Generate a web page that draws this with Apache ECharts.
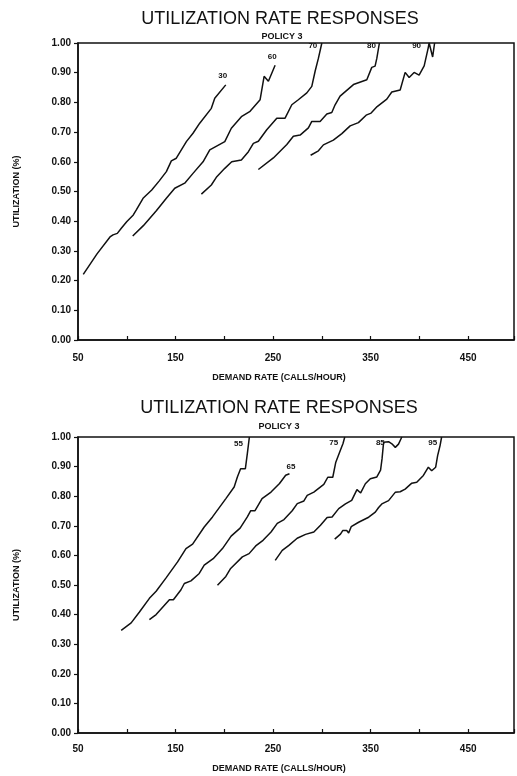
<!DOCTYPE html>
<html>
<head>
<meta charset="utf-8">
<script src="https://cdn.jsdelivr.net/npm/echarts@6/dist/echarts.min.js"></script>
<style>
html,body{margin:0;padding:0;background:#fff}
#main{width:517px;height:776px}
</style>
</head>
<body>
<div id="main"></div>
<script type="text/javascript">
// upper plot, policy 3 curves 30..90
var top30X = [55.4, 69.5, 82.8, 85.9, 90.3, 94.4, 99.9, 106.7, 109.8, 116.7, 125.6, 133.1, 140.6, 145.7, 150.8, 161.1, 167.9, 174.8, 186.7, 190.2, 201.5];
var top30Y = [0.221, 0.290, 0.347, 0.354, 0.359, 0.376, 0.398, 0.421, 0.438, 0.477, 0.505, 0.535, 0.567, 0.603, 0.612, 0.668, 0.696, 0.730, 0.780, 0.814, 0.859];
var top60X = [106.1, 117.0, 130.3, 140.6, 149.2, 159.4, 167.9, 178.2, 185.1, 200.5, 207.2, 217.5, 226.4, 236.7, 240.8, 245.2, 246.9, 252.1];
var top60Y = [0.350, 0.385, 0.435, 0.477, 0.511, 0.528, 0.561, 0.600, 0.640, 0.668, 0.713, 0.752, 0.770, 0.809, 0.888, 0.871, 0.876, 0.925];
var top70X = [176.5, 186.7, 192.3, 200.5, 207.6, 217.5, 224.7, 229.8, 234.9, 243.5, 253.8, 262.3, 269.2, 275.9, 284.6, 289.7, 293.1, 296.5, 300.0];
var top70Y = [0.491, 0.522, 0.550, 0.578, 0.600, 0.606, 0.634, 0.662, 0.669, 0.708, 0.747, 0.747, 0.792, 0.809, 0.832, 0.854, 0.905, 0.949, 1.000];
var top80X = [234.9, 250.3, 264.1, 270.8, 277.7, 286.2, 289.7, 298.2, 305.1, 310.2, 313.6, 318.7, 332.4, 346.1, 351.2, 354.6, 356.4, 359.0];
var top80Y = [0.574, 0.613, 0.658, 0.686, 0.690, 0.714, 0.736, 0.736, 0.761, 0.766, 0.792, 0.821, 0.860, 0.876, 0.918, 0.922, 0.949, 1.000];
var top90X = [288.5, 296.5, 301.6, 311.8, 320.5, 329.0, 337.5, 345.4, 350.5, 356.7, 366.6, 371.7, 380.3, 385.4, 389.5, 394.6, 399.7, 404.9, 409.0, 410.0, 411.0, 413.6, 415.6];
var top90Y = [0.622, 0.637, 0.657, 0.673, 0.695, 0.721, 0.732, 0.757, 0.764, 0.786, 0.811, 0.835, 0.842, 0.901, 0.884, 0.901, 0.892, 0.923, 0.983, 1.000, 1.000, 0.953, 1.000];

// lower plot, curves 55..95
var bot55X = [94.3, 104.5, 113.0, 123.2, 130.1, 140.3, 152.1, 160.7, 167.5, 179.4, 187.9, 201.6, 210.1, 213.4, 216.7, 221.6, 223.6, 225.7];
var bot55Y = [0.347, 0.372, 0.409, 0.455, 0.479, 0.524, 0.578, 0.623, 0.638, 0.696, 0.730, 0.792, 0.831, 0.865, 0.893, 0.893, 0.944, 1.000];
var bot65X = [123.2, 130.1, 143.7, 147.8, 155.6, 159.0, 165.8, 174.3, 179.4, 188.6, 198.1, 207.0, 216.2, 223.6, 227.1, 231.5, 238.7, 247.9, 256.6, 262.9, 266.8];
var bot65Y = [0.383, 0.400, 0.450, 0.450, 0.484, 0.505, 0.514, 0.539, 0.567, 0.589, 0.623, 0.665, 0.692, 0.730, 0.751, 0.751, 0.792, 0.814, 0.843, 0.871, 0.876];
var bot75X = [193.0, 201.6, 206.5, 218.5, 225.4, 232.2, 239.7, 247.9, 254.3, 261.2, 269.6, 274.8, 281.6, 285.0, 291.8, 302.0, 306.1, 311.2, 314.3, 319.0, 321.7, 323.5];
var bot75Y = [0.499, 0.529, 0.556, 0.595, 0.606, 0.632, 0.651, 0.679, 0.708, 0.721, 0.751, 0.775, 0.784, 0.803, 0.814, 0.840, 0.864, 0.864, 0.915, 0.955, 0.978, 1.000];
var bot85X = [252.2, 259.4, 266.2, 274.7, 283.3, 291.8, 298.6, 305.4, 310.5, 317.3, 324.2, 330.6, 336.0, 339.8, 344.6, 349.7, 356.4, 360.2, 361.7, 363.3, 368.4, 371.8, 375.3, 378.6, 382.0];
var bot85Y = [0.583, 0.617, 0.634, 0.658, 0.671, 0.679, 0.702, 0.728, 0.730, 0.758, 0.774, 0.786, 0.822, 0.811, 0.842, 0.859, 0.865, 0.888, 0.926, 0.982, 0.984, 0.977, 0.965, 0.976, 1.000];
var bot95X = [313.2, 319.1, 321.4, 325.5, 327.5, 330.1, 337.7, 348.0, 354.8, 358.2, 361.5, 368.4, 375.2, 380.3, 385.4, 392.2, 397.3, 404.1, 409.2, 412.6, 416.7, 418.7, 421.2, 422.8];
var bot95Y = [0.655, 0.672, 0.684, 0.684, 0.676, 0.697, 0.712, 0.729, 0.746, 0.762, 0.774, 0.785, 0.813, 0.815, 0.824, 0.844, 0.847, 0.870, 0.898, 0.886, 0.898, 0.937, 0.971, 1.000];

var xLabels = [50, 150, 250, 350, 450];
var titleText = 'UTILIZATION RATE RESPONSES';
var subText = 'POLICY 3';
var xName = 'DEMAND RATE (CALLS/HOUR)';
var yName = 'UTILIZATION (%)';

var font = 'Liberation Sans, Arial, sans-serif';

function pts(xs, ys) {
    var out = [];
    for (var i = 0; i < xs.length; i++) out.push([xs[i], ys[i]]);
    return out;
}

// one curve, number label placed near its last point
function curve(name, xs, ys, idx, off) {
    var d = pts(xs, ys);
    return {
        name: name,
        type: 'line',
        xAxisIndex: idx,
        yAxisIndex: idx,
        data: d,
        showSymbol: false,
        silent: true,
        lineStyle: {color: '#111', width: 1.5},
        markPoint: {
            symbol: 'circle',
            symbolSize: 0,
            silent: true,
            data: [{coord: d[d.length - 1]}],
            label: {
                show: true, position: 'inside', formatter: name, offset: off,
                color: '#111', fontSize: 8, fontWeight: 'bold', fontFamily: font
            }
        }
    };
}

function xAxis(idx, margin) {
    return {
        type: 'value', gridIndex: idx, min: 50, max: 497, interval: 50,
        splitLine: {show: false},
        axisLine: {lineStyle: {color: '#111', width: 1.5}},
        axisTick: {inside: true, length: 4, lineStyle: {color: '#111', width: 1.2}},
        axisLabel: {
            margin: margin, color: '#111', fontSize: 10, fontWeight: 'bold', fontFamily: font,
            formatter: function (v) { return xLabels.indexOf(v) >= 0 ? String(v) : ''; }
        }
    };
}

function yAxis(idx) {
    return {
        type: 'value', gridIndex: idx, min: 0, max: 1, interval: 0.1,
        splitLine: {show: false},
        name: yName, nameLocation: 'middle', nameGap: 57, nameRotate: 90,
        nameTextStyle: {color: '#111', fontSize: 9, fontWeight: 'bold', fontFamily: font},
        axisLine: {lineStyle: {color: '#111', width: 1.5}},
        axisTick: {length: 4, lineStyle: {color: '#111', width: 1.2}},
        axisLabel: {
            margin: 7, color: '#111', fontSize: 10, fontWeight: 'bold', fontFamily: font,
            formatter: function (v) { return v.toFixed(2); }
        }
    };
}

function txt(s, x, y, size, weight, fam) {
    return {
        type: 'text', x: x, y: y, silent: true,
        style: {text: s, fill: '#111', fontSize: size, fontWeight: weight, fontFamily: fam,
                align: 'center', verticalAlign: 'middle'}
    };
}

var myChart = echarts.init(document.getElementById('main'));
myChart.setOption({
    animation: false,
    backgroundColor: '#fff',
    grid: [
        {left: 78, top: 43, width: 436, height: 297, show: true, borderColor: '#111', borderWidth: 1.5},
        {left: 78, top: 437, width: 436, height: 296, show: true, borderColor: '#111', borderWidth: 1.5}
    ],
    xAxis: [xAxis(0, 13), xAxis(1, 11)],
    yAxis: [yAxis(0), yAxis(1)],
    graphic: [
        txt(titleText, 280, 19, 18, 'normal', font),
        txt(subText, 282, 37, 9, 'bold', font),
        txt(xName, 279, 378, 9, 'bold', font),
        txt(titleText, 279, 408, 18, 'normal', font),
        txt(subText, 279, 427, 9, 'bold', font),
        txt(xName, 279, 769, 9, 'bold', font)
    ],
    series: [
        curve('30', top30X, top30Y, 0, [-3, -9]),
        curve('60', top60X, top60Y, 0, [-3, -8]),
        curve('70', top70X, top70Y, 0, [-9, 3]),
        curve('80', top80X, top80Y, 0, [-8, 3]),
        curve('90', top90X, top90Y, 0, [-18, 3]),
        curve('55', bot55X, bot55Y, 1, [-11, 7]),
        curve('65', bot65X, bot65Y, 1, [1.5, -7]),
        curve('75', bot75X, bot75Y, 1, [-11, 6]),
        curve('85', bot85X, bot85Y, 1, [-21.5, 6]),
        curve('95', bot95X, bot95Y, 1, [-9, 5.5])
    ]
});
</script>
</body>
</html>
